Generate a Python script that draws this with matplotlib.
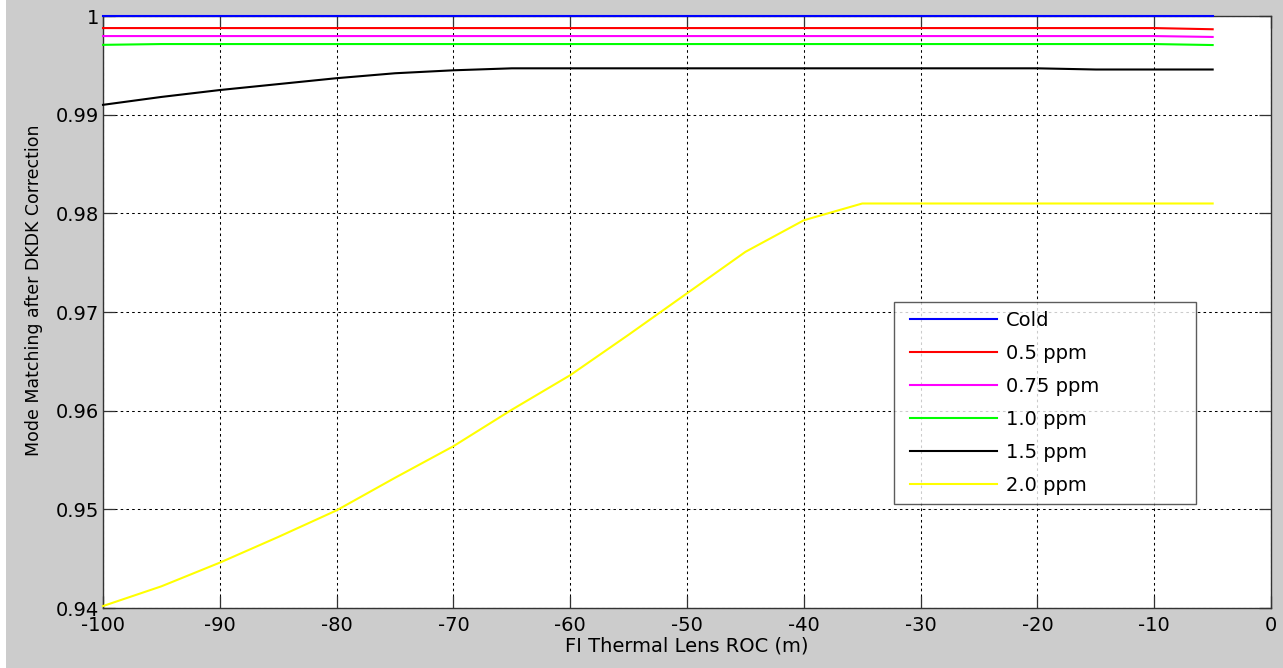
import numpy as np
import matplotlib.pyplot as plt
from matplotlib.patches import Rectangle
from matplotlib.lines import Line2D
from matplotlib.legend_handler import HandlerLine2D

plt.rcParams['font.family'] = ['DejaVu Sans']
plt.rcParams['axes.unicode_minus'] = False

# FI thermal lens radius of curvature (m)
roc = [-100, -95, -90, -85, -80, -75, -70, -65, -60, -55,
       -50, -45, -40, -35, -30, -25, -20, -15, -10, -5]

cold = [1.0] * 20
ppm_05 = [0.99878] * 19 + [0.99866]
ppm_075 = [0.99797] * 19 + [0.99788]
ppm_10 = [0.99708] + [0.99716] * 18 + [0.99706]
ppm_15 = [0.9910, 0.9918, 0.9925, 0.9931, 0.9937, 0.9942, 0.9945, 0.9947,
          0.9947, 0.9947, 0.9947, 0.9947, 0.9947, 0.9947, 0.9947, 0.9947,
          0.9947, 0.99458, 0.99458, 0.99458]
ppm_20 = [0.9402, 0.9422, 0.9446, 0.9472, 0.9499, 0.9532, 0.9564, 0.9601,
          0.9636, 0.9677, 0.9719, 0.9761, 0.9793, 0.9810, 0.9810, 0.9810,
          0.9810, 0.9810, 0.9810, 0.9810]

labels = ['Cold', '0.5 ppm', '0.75 ppm', '1.0 ppm', '1.5 ppm', '2.0 ppm']
colors = ['#0000ff', '#ff0000', '#ff00ff', '#00ff00', '#000000', '#ffff00']

fig = plt.figure(figsize=(12.83, 6.68), dpi=100, facecolor='#cccccc')
fig.patches.append(Rectangle((0, 0), 6 / 1283, 1, transform=fig.transFigure,
                             facecolor='white', edgecolor='none'))
ax = fig.add_axes([0.0803, 0.0898, 0.9104, 0.8862])

for y, lab, c in zip([cold, ppm_05, ppm_075, ppm_10, ppm_15, ppm_20], labels, colors):
    ax.plot(roc, y, color=c, lw=1.5, label=lab, clip_on=False, zorder=3)

ax.set_xlim(-100, 0)
ax.set_ylim(0.94, 1.0)
ax.set_xticks(np.arange(-100, 1, 10))
ax.set_yticks([0.94, 0.95, 0.96, 0.97, 0.98, 0.99, 1.0])
ax.set_yticklabels(['0.94', '0.95', '0.96', '0.97', '0.98', '0.99', '1'])
ax.grid(True, color='black', linestyle=(0, (2.5, 3)), linewidth=0.75)
ax.tick_params(direction='in', length=8.5, width=0.9, top=True, right=True,
               labelsize=14, color='#333333')
ax.tick_params(axis='x', pad=6)
ax.tick_params(axis='y', pad=3)
for s in ax.spines.values():
    s.set_color('#333333')
    s.set_linewidth(1.0)

ax.set_xlabel('FI Thermal Lens ROC (m)', fontsize=14, labelpad=1)
ax.set_ylabel('Mode Matching after DKDK Correction', fontsize=12.5)
ax.yaxis.set_label_coords(-0.0514, 0.537)

leg = ax.legend(loc='upper left', bbox_to_anchor=(0.677, 0.1774, 0.2586, 0.3395),
                mode='expand', fontsize=14, frameon=True, fancybox=False,
                handlelength=4.84, handletextpad=0.5, labelspacing=0.725,
                borderaxespad=0, borderpad=0.45,
                handler_map={Line2D: HandlerLine2D(xpad=0.36)})
leg.get_frame().set_edgecolor('#333333')
leg.get_frame().set_linewidth(1.0)
for h in leg.get_lines():
    h.set_linewidth(1.5)

fig.savefig('out.png', dpi=100, facecolor=fig.get_facecolor())
